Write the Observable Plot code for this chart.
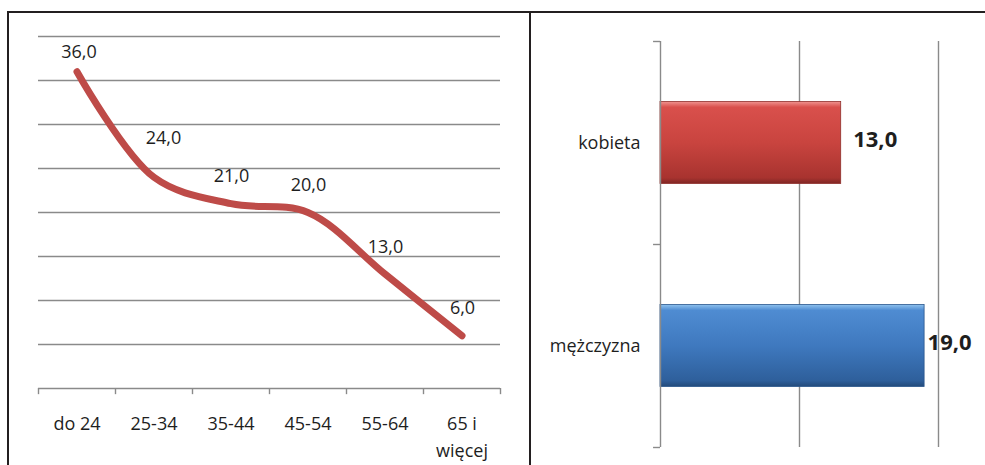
<!DOCTYPE html>
<html><head><meta charset="utf-8">
<script src="https://cdn.jsdelivr.net/npm/d3@7"></script>
<script src="https://cdn.jsdelivr.net/npm/@observablehq/plot@0.6"></script>
<style>
body{margin:0;background:#fff;}
#wrap{position:relative;width:985px;height:465px;overflow:hidden;font-family:"Open Sans",sans-serif;}
.b{position:absolute;background:#231f20;}
#left{position:absolute;left:0;top:0;}
#right{position:absolute;left:530px;top:0;}
</style></head><body>
<div id="wrap">
<div id="left"></div><div id="right"></div>
<div class="b" style="left:7px;top:11px;width:978px;height:2px"></div>
<div class="b" style="left:7px;top:11px;width:2px;height:454px"></div>
<div class="b" style="left:529px;top:11px;width:2px;height:454px"></div>
</div>
<script>
const ageGroups = ["do 24", "25-34", "35-44", "45-54", "55-64", "65 i\nwięcej"];
const ageValues = [36, 24, 21, 20, 13, 6];
const yTicks = [5, 10, 15, 20, 25, 30, 35, 40];
const genders = ["kobieta", "mężczyzna"];
const genderValues = [13, 19];
const xTicks = [10, 20];

const fmt = d => d.toFixed(1).replace(".", ",");
const gridColor = "#8a8a8a";
const textColor = "#1e1e1e";
const ageData = ageGroups.map((g, i) => ({g, v: ageValues[i], i}));
const gData = genders.map((g, i) => ({g, v: genderValues[i]}));

const left = Plot.plot({
  width: 530, height: 465,
  marginLeft: 38, marginRight: 30, marginTop: 36, marginBottom: 77,
  style: {fontFamily: "'Open Sans', sans-serif", fontSize: "18px", color: textColor, background: "transparent", overflow: "visible"},
  x: {type: "band", domain: ageGroups, padding: 0, label: null, axis: null},
  y: {domain: [0, 40], axis: null},
  marks: [
    Plot.ruleY(yTicks, {stroke: gridColor, strokeWidth: 1.4}),
    Plot.ruleY([0], {stroke: gridColor, strokeWidth: 1.4}),
    Plot.ruleX(ageGroups, {x: d => d, y1: 0, y2: -0.7, dx: -38.5, stroke: gridColor, strokeWidth: 1.4}),
    Plot.ruleX([ageGroups[ageGroups.length - 1]], {x: d => d, y1: 0, y2: -0.7, dx: 38.5, stroke: gridColor, strokeWidth: 1.4}),
    Plot.axisX({tickSize: 0, tickPadding: 22, fontSize: 18, lineHeight: 1.5, fill: textColor, label: null, tickFormat: d => d}),
    Plot.line(ageData, {x: "g", y: "v", curve: "catmull-rom", stroke: "#be4b48", strokeWidth: 7, strokeLinecap: "round", strokeLinejoin: "round"}),
    Plot.text(ageData.filter(d => d.i === 0), {x: "g", y: "v", text: d => fmt(d.v), dx: 2, dy: -19, fontSize: 18, fill: textColor}),
    Plot.text(ageData.filter(d => d.i === 1), {x: "g", y: "v", text: d => fmt(d.v), dx: 9.5, dy: -39, fontSize: 18, fill: textColor}),
    Plot.text(ageData.filter(d => d.i > 1), {x: "g", y: "v", text: d => fmt(d.v), dx: 0.5, dy: -27, fontSize: 18, fill: textColor})
  ]
});
document.getElementById("left").appendChild(left);

const right = Plot.plot({
  width: 455, height: 465,
  marginLeft: 130, marginRight: 47, marginTop: 41, marginBottom: 18,
  style: {fontFamily: "'Open Sans', sans-serif", fontSize: "18px", color: textColor, background: "transparent", overflow: "visible"},
  x: {domain: [0, 20], axis: null},
  y: {domain: genders, padding: 0, axis: null},
  marks: [
    Plot.ruleX(xTicks, {stroke: gridColor, strokeWidth: 1.4}),
    Plot.barX(gData.filter(d => d.g === "kobieta"), {x: "v", y: "g", fill: "url(#gRed)", insetTop: 60.5, insetBottom: 60.5, stroke: "#8f2f2c", strokeWidth: 0.8}),
    Plot.barX(gData.filter(d => d.g === "mężczyzna"), {x: "v", y: "g", fill: "url(#gBlue)", insetTop: 60.5, insetBottom: 60.5, stroke: "#2a568c", strokeWidth: 0.8}),
    Plot.ruleX([0], {stroke: gridColor, strokeWidth: 1.4}),
    Plot.ruleY(genders, {y: d => d, x1: -0.5, x2: 0, dy: -101.5, stroke: gridColor, strokeWidth: 1.4}),
    Plot.ruleY([genders[genders.length - 1]], {y: d => d, x1: -0.5, x2: 0, dy: 101.5, stroke: gridColor, strokeWidth: 1.4}),
    Plot.axisY({tickSize: 0, tickPadding: 20, fontSize: 18, fill: textColor, label: null}),
    Plot.text(gData.filter(d => d.g === "kobieta"), {x: "v", y: "g", text: d => fmt(d.v), textAnchor: "start", dx: 12, dy: -3, fontWeight: "bold", fontSize: 22, fill: textColor}),
    Plot.text(gData.filter(d => d.g === "mężczyzna"), {x: "v", y: "g", text: d => fmt(d.v), textAnchor: "start", dx: 3, dy: -3, fontWeight: "bold", fontSize: 22, fill: textColor})
  ]
});
const defs = d3.select(right).insert("defs", ":first-child");
function grad(id, stops) {
  const g = defs.append("linearGradient").attr("id", id).attr("x1", 0).attr("y1", 0).attr("x2", 0).attr("y2", 1);
  stops.forEach(([o, c]) => g.append("stop").attr("offset", o).attr("stop-color", c));
}
grad("gRed", [[0, "#f0938f"], [0.07, "#d9504c"], [0.5, "#c9443f"], [0.93, "#a8332f"], [1, "#7f2624"]]);
grad("gBlue", [[0, "#8fc2ee"], [0.07, "#4f8cd2"], [0.5, "#3f79bf"], [0.93, "#2e5f9b"], [1, "#234a7a"]]);
document.getElementById("right").appendChild(right);
</script>
</body></html>
